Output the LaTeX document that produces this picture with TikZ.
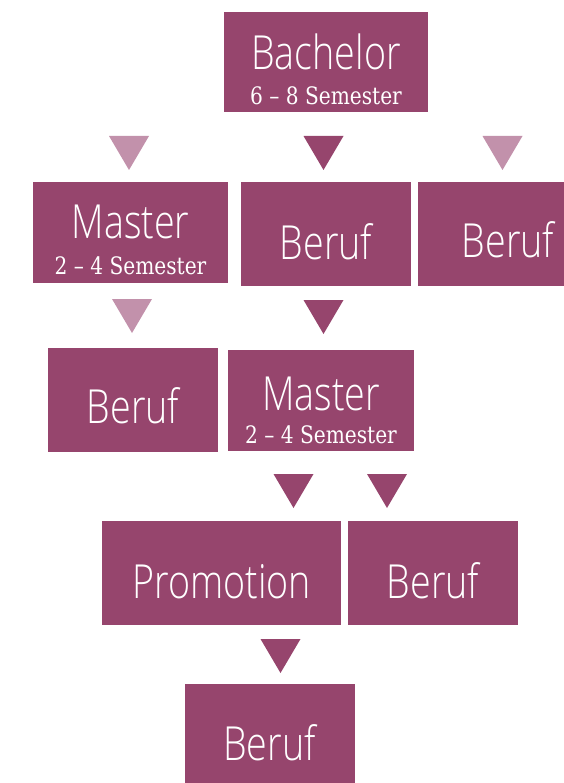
\documentclass[tikz,border=0pt]{standalone}
\usepackage{fontspec}
\usepackage{xcolor}
\usepackage{tikz}
\newfontfamily\boxfont[FakeStretch=0.8]{Open Sans Light}
\newfontfamily\subfont[FakeStretch=0.84,Ligatures=TeX]{DejaVu Serif}
\definecolor{boxfill}{HTML}{96456D}
\definecolor{triLight}{HTML}{C291AB}
\newcommand{\downtri}[3]{\fill[#3] (#1-20,#2) -- (#1+20,#2) -- (#1,#2+34) -- cycle;}

\begin{document}
\begin{tikzpicture}[x=1pt,y=-1pt]
\tikzstyle{box} =[rectangle, fill = boxfill, inner sep=0pt, minimum width=170pt, minimum height=104pt]
\tikzstyle{big} =[anchor=base, inner sep=0pt, text=white, font=\boxfont\fontsize{47}{50}\selectfont]
\tikzstyle{small} =[anchor=base, inner sep=0pt, text=white, font=\subfont\fontsize{24}{26}\selectfont]
\useasboundingbox (0,0) rectangle (563,783);
% boxes
\node[box,minimum width=204pt,minimum height=100pt](bachelor) at (326,62){};
\node[box,minimum width=195pt,minimum height=101pt](master1) at (130.5,232.5){};
\node[box](beruf1) at (326,234){};
\node[box](beruf2) at (503,234){};
\node[box](beruf3) at (133,400){};
\node[box,minimum width=186pt,minimum height=101pt](master2) at (321,400.5){};
\node[box,minimum width=239pt](promotion) at (221.5,573){};
\node[box](beruf4) at (433,573){};
\node[box,minimum height=102pt](beruf5) at (269.5,735){};
% texts
\node[big](bachelorT) at (bachelor.center |- 0,70){Bachelor};
\node[small](bachelorS) at (bachelor.center |- 0,105){6 -- 8 Semester};
\node[big](master1T) at (master1.center |- 0,239){Master};
\node[small](master1S) at (master1.center |- 0,274){2 -- 4 Semester};
\node[big](beruf1T) at (beruf1.center |- 0,259){Beruf};
\node[big](beruf2T) at (508,258){Beruf};
\node[big](beruf3T) at (beruf3.center |- 0,423){Beruf};
\node[big](master2T) at (master2.center |- 0,410){Master};
\node[small](master2S) at (master2.center |- 0,443){2 -- 4 Semester};
\node[big](promotionT) at (promotion.center |- 0,598){Promotion};
\node[big](beruf4T) at (beruf4.center |- 0,598){Beruf};
\node[big](beruf5T) at (beruf5.center |- 0,760){Beruf};
% triangles
\downtri{129}{136}{triLight}
\downtri{323.5}{136}{boxfill}
\downtri{502.5}{136}{triLight}
\downtri{132}{299}{triLight}
\downtri{323.5}{300}{boxfill}
\downtri{293.5}{474}{boxfill}
\downtri{387}{474}{boxfill}
\downtri{280.5}{639}{boxfill}
\end{tikzpicture}
\end{document}
